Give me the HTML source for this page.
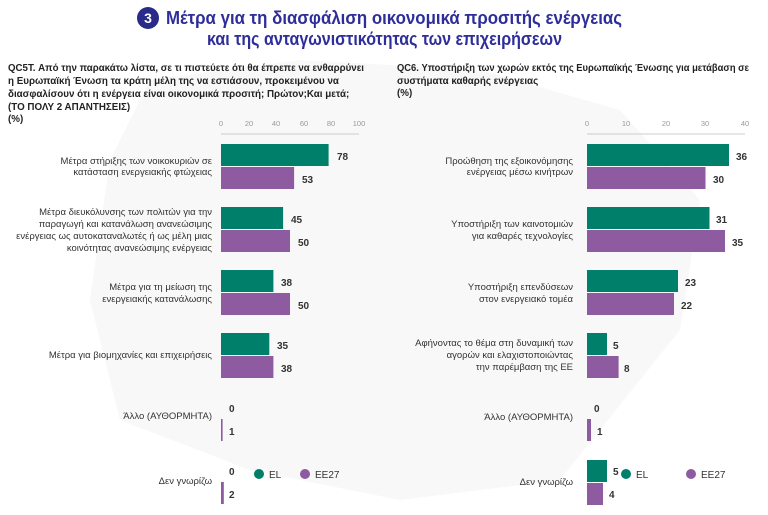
<!DOCTYPE html>
<html><head><meta charset="utf-8"><style>
body{margin:0;background:#fff;}
svg{display:block;font-family:"Liberation Sans","DejaVu Sans",sans-serif;}
.l{font-size:9.5px;fill:#333;text-anchor:end}
.v{font-size:10px;font-weight:bold;fill:#333}
.t{font-size:7.5px;fill:#999;text-anchor:middle}
.q{font-size:9.8px;font-weight:bold;fill:#222}
.g{fill:#00806a}.p{fill:#8e5aa0}
</style></head><body>
<svg width="768" height="515" viewBox="0 0 768 515">
<rect width="768" height="515" fill="#fff"/>
<path d="M150 80 L300 60 L480 70 L620 110 L700 200 L680 330 L560 480 L400 500 L250 470 L120 420 L90 300 L110 160 Z" fill="#f8f8f8"/>
<circle cx="148" cy="18" r="11" fill="#2a2a8a"/>
<text x="148" y="23" font-size="14" font-weight="bold" fill="#fff" text-anchor="middle">3</text>
<text x="166" y="24" font-size="18" font-weight="bold" fill="#2e2e9a" textLength="456" lengthAdjust="spacingAndGlyphs">Μέτρα για τη διασφάλιση οικονομικά προσιτής ενέργειας</text>
<text x="207" y="45" font-size="18" font-weight="bold" fill="#2e2e9a" textLength="355" lengthAdjust="spacingAndGlyphs">και της ανταγωνιστικότητας των επιχειρήσεων</text>
<text class="q" x="8" y="71" textLength="356" lengthAdjust="spacingAndGlyphs">QC5T. Από την παρακάτω λίστα, σε τι πιστεύετε ότι θα έπρεπε να ενθαρρύνει</text>
<text class="q" x="8" y="84">η Ευρωπαϊκή Ένωση τα κράτη μέλη της να εστιάσουν, προκειμένου να</text>
<text class="q" x="8" y="97">διασφαλίσουν ότι η ενέργεια είναι οικονομικά προσιτή; Πρώτον;Και μετά;</text>
<text class="q" x="8" y="110">(ΤΟ ΠΟΛΥ 2 ΑΠΑΝΤΗΣΕΙΣ)</text>
<text class="q" x="8" y="122">(%)</text>
<text class="q" x="397" y="71" textLength="352" lengthAdjust="spacingAndGlyphs">QC6. Υποστήριξη των χωρών εκτός της Ευρωπαϊκής Ένωσης για μετάβαση σε</text>
<text class="q" x="397" y="84">συστήματα καθαρής ενέργειας</text>
<text class="q" x="397" y="96">(%)</text>
<g class="t"><text x="221" y="126">0</text><text x="249" y="126">20</text><text x="276" y="126">40</text><text x="304" y="126">60</text><text x="331" y="126">80</text><text x="359" y="126">100</text>
<text x="587" y="126">0</text><text x="626" y="126">10</text><text x="666" y="126">20</text><text x="705" y="126">30</text><text x="745" y="126">40</text></g>
<line x1="221" y1="134" x2="359" y2="134" stroke="#ccc"/>
<line x1="587" y1="134" x2="745" y2="134" stroke="#ccc"/>
<rect class="g" x="221" y="144" width="107.6" height="22"/><rect class="p" x="221" y="167" width="73.1" height="22"/>
<rect class="g" x="221" y="207" width="62.1" height="22"/><rect class="p" x="221" y="230" width="69" height="22"/>
<rect class="g" x="221" y="270" width="52.4" height="22"/><rect class="p" x="221" y="293" width="69" height="22"/>
<rect class="g" x="221" y="333" width="48.3" height="22"/><rect class="p" x="221" y="356" width="52.4" height="22"/>
<rect class="p" x="221" y="419" width="1.6" height="22"/>
<rect class="p" x="221" y="482" width="2.8" height="22"/>
<g class="v"><text x="337" y="160">78</text><text x="302" y="183">53</text>
<text x="291" y="223">45</text><text x="298" y="246">50</text>
<text x="281" y="286">38</text><text x="298" y="309">50</text>
<text x="277" y="349">35</text><text x="281" y="372">38</text>
<text x="229" y="412">0</text><text x="229" y="435">1</text>
<text x="229" y="475">0</text><text x="229" y="498">2</text></g>
<g class="l"><text x="212" y="164">Μέτρα στήριξης των νοικοκυριών σε</text><text x="212" y="175">κατάσταση ενεργειακής φτώχειας</text>
<text x="212" y="215">Μέτρα διευκόλυνσης των πολιτών για την</text><text x="212" y="227">παραγωγή και κατανάλωση ανανεώσιμης</text><text x="212" y="239">ενέργειας ως αυτοκαταναλωτές ή ως μέλη μιας</text><text x="212" y="251">κοινότητας ανανεώσιμης ενέργειας</text>
<text x="212" y="290">Μέτρα για τη μείωση της</text><text x="212" y="302">ενεργειακής κατανάλωσης</text>
<text x="212" y="358">Μέτρα για βιομηχανίες και επιχειρήσεις</text>
<text x="212" y="419">Άλλο (ΑΥΘΟΡΜΗΤΑ)</text>
<text x="212" y="484">Δεν γνωρίζω</text></g>
<rect class="g" x="587" y="144" width="142" height="22"/><rect class="p" x="587" y="167" width="118.5" height="22"/>
<rect class="g" x="587" y="207" width="122.5" height="22"/><rect class="p" x="587" y="230" width="138" height="22"/>
<rect class="g" x="587" y="270" width="91" height="22"/><rect class="p" x="587" y="293" width="87" height="22"/>
<rect class="g" x="587" y="333" width="20" height="22"/><rect class="p" x="587" y="356" width="31.6" height="22"/>
<rect class="p" x="587" y="419" width="4" height="22"/>
<rect class="g" x="587" y="460" width="20" height="22"/><rect class="p" x="587" y="483" width="16" height="22"/>
<g class="v"><text x="736" y="160">36</text><text x="713" y="183">30</text>
<text x="716" y="223">31</text><text x="732" y="246">35</text>
<text x="685" y="286">23</text><text x="681" y="309">22</text>
<text x="613" y="349">5</text><text x="624" y="372">8</text>
<text x="594" y="412">0</text><text x="597" y="435">1</text>
<text x="613" y="475">5</text><text x="609" y="498">4</text></g>
<g class="l"><text x="573" y="164">Προώθηση της εξοικονόμησης</text><text x="573" y="175">ενέργειας μέσω κινήτρων</text>
<text x="573" y="227">Υποστήριξη των καινοτομιών</text><text x="573" y="239">για καθαρές τεχνολογίες</text>
<text x="573" y="290">Υποστήριξη επενδύσεων</text><text x="573" y="302">στον ενεργειακό τομέα</text>
<text x="573" y="346">Αφήνοντας το θέμα στη δυναμική των</text><text x="573" y="358">αγορών και ελαχιστοποιώντας</text><text x="573" y="370">την παρέμβαση της ΕΕ</text>
<text x="573" y="420">Άλλο (ΑΥΘΟΡΜΗΤΑ)</text>
<text x="573" y="485">Δεν γνωρίζω</text></g>
<circle class="g" cx="259" cy="474" r="5"/><text x="269" y="478" font-size="10" fill="#333">EL</text>
<circle class="p" cx="305" cy="474" r="5"/><text x="315" y="478" font-size="10" fill="#333">EE27</text>
<circle class="g" cx="626" cy="474" r="5"/><text x="636" y="478" font-size="10" fill="#333">EL</text>
<circle class="p" cx="691" cy="474" r="5"/><text x="701" y="478" font-size="10" fill="#333">EE27</text>
</svg>
</body></html>
